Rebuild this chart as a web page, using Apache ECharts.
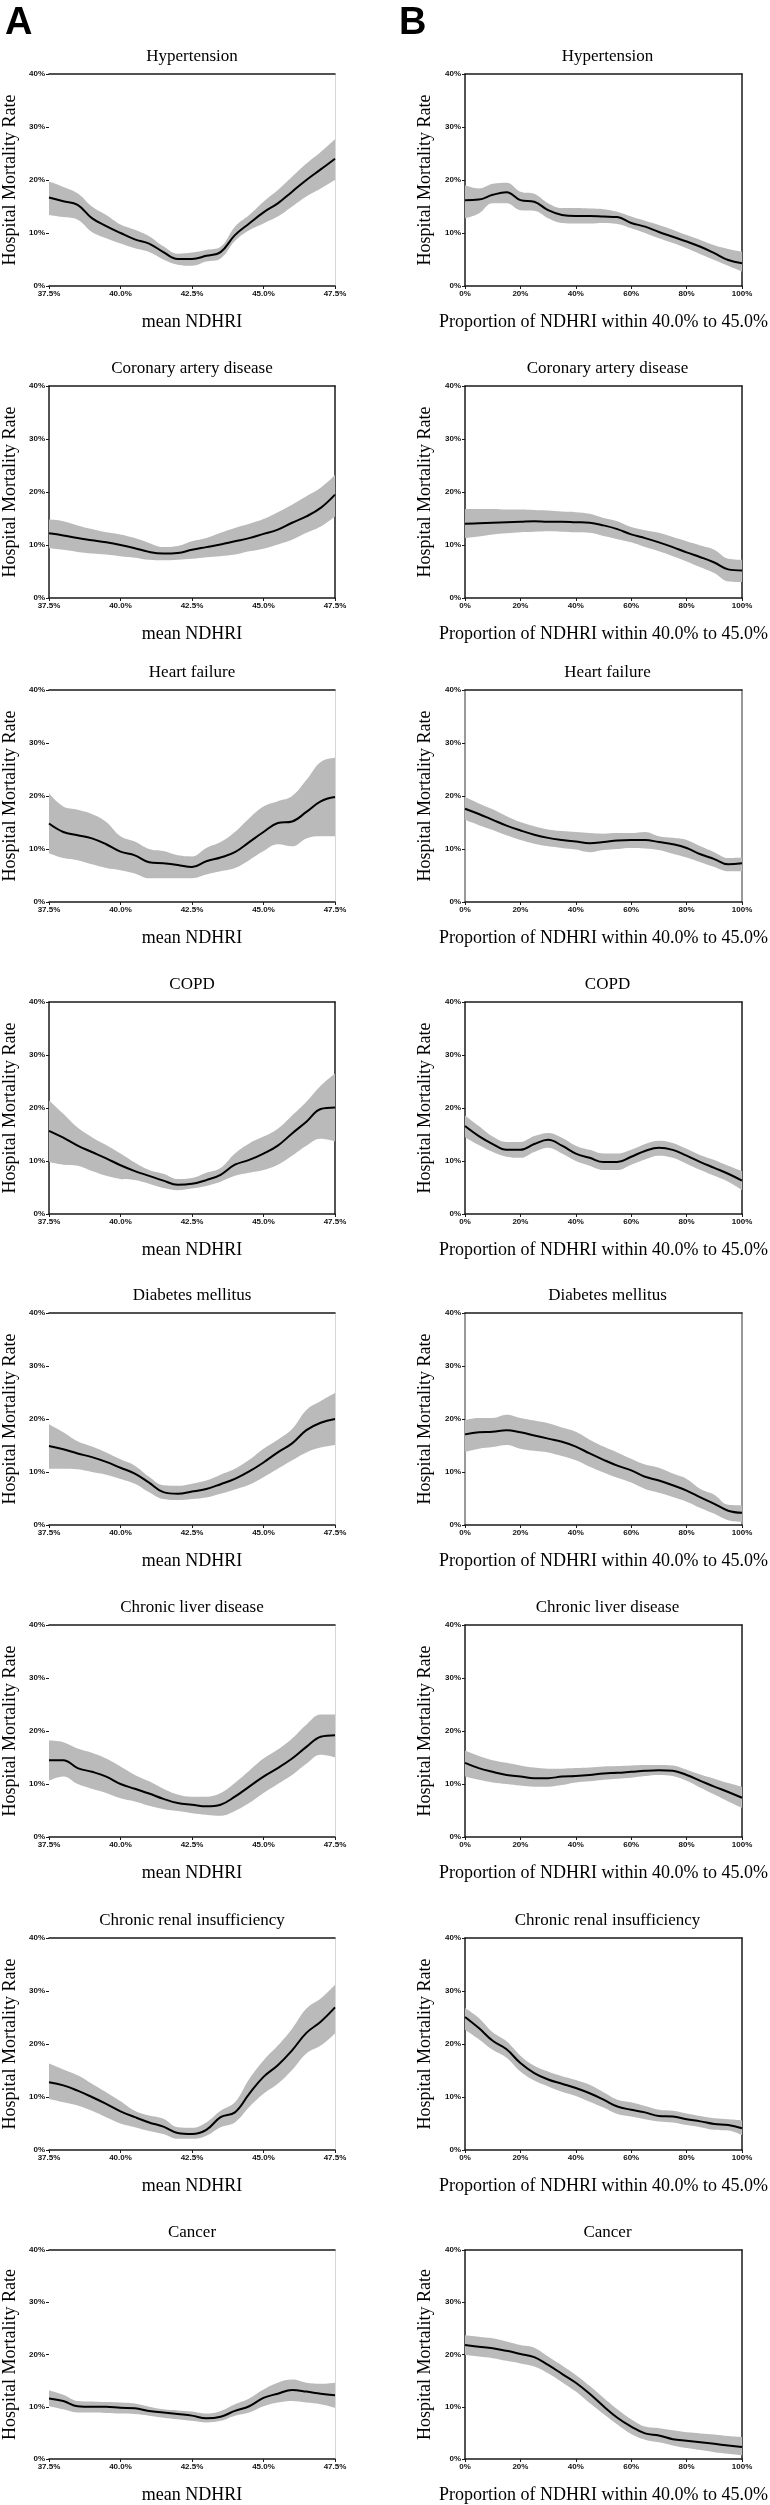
<!DOCTYPE html>
<html>
<head>
<meta charset="utf-8">
<script src="https://cdn.jsdelivr.net/npm/echarts@6/dist/echarts.min.js"></script>
<style>
html, body { margin: 0; padding: 0; background: #fff; }
#chart { width: 770px; height: 2505px; }
</style>
</head>
<body>
<div id="chart"></div>
<script>
// x categories
var xMean = [37.5, 38, 38.5, 39, 39.5, 40, 40.5, 41, 41.5, 42, 42.5, 43, 43.5, 44, 44.5, 45, 45.5, 46, 46.5, 47, 47.5];
var xProp = [0, 5, 10, 15, 20, 25, 30, 35, 40, 45, 50, 55, 60, 65, 70, 75, 80, 85, 90, 95, 100];

var diseases = ['Hypertension', 'Coronary artery disease', 'Heart failure', 'COPD',
    'Diabetes mellitus', 'Chronic liver disease', 'Chronic renal insufficiency', 'Cancer'];

// panel A: mortality vs mean NDHRI (mid, lower, upper)
var htA    = [16.7,16.0,15.3,12.8,11.3,10.0,8.8,8.0,6.4,5.1,5.1,5.7,6.4,9.6,11.8,13.9,15.6,17.8,20.0,22.0,24.0];
var htA_lo = [13.4,13.0,12.5,10.2,9.0,8.0,7.1,6.4,5.0,4.0,3.8,4.6,5.2,8.5,10.5,11.8,13.1,15.0,16.9,18.4,20.0];
var htA_hi = [19.7,18.7,17.5,15.0,13.4,11.6,10.6,9.4,7.5,6.1,6.3,6.8,7.4,11.2,13.4,15.9,18.1,20.6,23.1,25.3,27.7];

var cadA    = [12.2,11.8,11.3,10.9,10.5,10.0,9.4,8.7,8.4,8.5,9.1,9.6,10.1,10.7,11.3,12.1,12.9,14.2,15.4,17.0,19.5];
var cadA_lo = [9.4,9.1,8.7,8.4,8.2,7.9,7.6,7.2,7.1,7.2,7.4,7.7,7.9,8.2,8.8,9.3,10.1,11.0,12.3,13.5,15.4];
var cadA_hi = [14.8,14.5,13.7,13.0,12.4,12.0,11.3,10.4,9.6,9.8,10.7,11.3,12.3,13.2,14.0,14.9,16.2,17.6,19.2,20.8,23.2];

var hfA    = [14.8,13.2,12.6,12.0,10.9,9.5,8.8,7.5,7.3,7.0,6.6,7.7,8.4,9.4,11.3,13.2,14.9,15.2,17.0,19.0,19.8];
var hfA_lo = [9.2,8.3,7.9,7.1,6.4,6.0,5.4,4.5,4.5,4.5,4.5,5.2,5.8,6.4,7.9,9.6,10.9,10.5,12.0,12.4,12.4];
var hfA_hi = [20.5,18.0,17.4,16.6,15.1,12.4,11.4,10.0,9.6,8.8,8.6,10.2,11.3,13.2,15.8,18.0,19.0,20.0,23.0,26.4,27.2];

var copdA    = [15.7,14.4,12.9,11.7,10.5,9.2,8.1,7.2,6.3,5.5,5.7,6.4,7.4,9.3,10.2,11.4,12.9,15.2,17.4,19.8,20.1];
var copdA_lo = [9.8,9.3,9.1,8.1,7.2,6.6,6.4,5.7,4.9,4.5,4.8,5.3,6.1,7.2,7.8,8.3,9.3,11.0,12.9,14.2,13.7];
var copdA_hi = [21.4,18.9,16.3,14.5,13.0,11.4,9.7,8.3,7.6,6.6,6.8,7.8,8.7,11.4,13.3,14.6,16.1,18.6,21.2,24.2,26.5];

var dmA    = [14.9,14.3,13.5,12.8,11.9,10.8,9.7,8.0,6.2,5.9,6.3,6.8,7.7,8.7,10.1,11.8,13.7,15.4,17.9,19.3,20.0];
var dmA_lo = [10.6,10.6,10.5,10.0,9.5,8.7,7.8,6.2,4.9,4.7,4.9,5.2,5.9,6.7,7.6,9.0,10.6,12.2,13.7,14.6,15.1];
var dmA_hi = [19.0,17.5,15.8,14.8,13.7,12.4,11.2,9.1,7.5,7.4,7.8,8.4,9.5,10.6,12.3,14.4,16.1,18.1,21.7,23.4,24.9];

var cldA    = [14.5,14.5,13.0,12.3,11.4,10.0,9.1,8.2,7.2,6.4,6.1,5.8,6.1,7.6,9.5,11.4,13.0,14.8,17.0,18.9,19.2];
var cldA_lo = [10.6,11.4,10.0,9.1,8.3,7.3,6.7,5.9,5.3,4.9,4.5,4.2,4.0,4.9,6.4,8.3,10.0,11.7,13.8,15.5,15.0];
var cldA_hi = [18.2,17.9,16.7,15.9,14.8,13.3,11.7,10.5,9.1,8.0,7.6,7.6,8.3,10.2,12.5,14.8,16.5,18.6,21.2,23.1,23.1];

var criA    = [12.8,12.2,11.2,10.0,8.7,7.3,6.2,5.2,4.4,3.2,3.0,3.8,6.2,7.1,10.6,13.8,16.0,18.8,22.1,24.2,26.9];
var criA_lo = [9.6,9.0,8.4,7.4,6.2,5.0,4.3,3.6,3.0,2.1,2.1,2.7,4.3,5.2,8.1,10.6,12.5,15.1,18.2,19.7,22.0];
var criA_hi = [16.3,15.2,14.1,12.5,10.9,9.2,7.4,6.5,5.9,4.3,4.2,5.2,7.4,9.0,13.4,16.9,19.7,22.9,26.7,28.6,31.2];

var caA    = [11.6,11.1,10.1,10.0,10.0,9.8,9.7,9.2,8.9,8.6,8.3,7.8,8.1,9.2,10.1,11.7,12.5,13.2,12.9,12.5,12.2];
var caA_lo = [10.1,9.5,8.9,8.9,8.8,8.7,8.6,8.3,7.9,7.6,7.3,7.0,7.3,8.3,8.9,10.1,10.8,11.1,10.8,10.5,9.8];
var caA_hi = [13.1,12.3,11.1,11.0,10.9,10.8,10.6,10.0,9.5,9.3,9.1,8.7,9.2,10.5,11.6,13.3,14.6,15.2,14.6,14.4,14.6];

// panel B: mortality vs proportion of NDHRI within 40.0% to 45.0%
var htB    = [16.2,16.3,17.2,17.7,16.2,15.9,14.3,13.4,13.2,13.2,13.1,13.0,11.9,11.2,10.2,9.3,8.4,7.4,6.2,4.9,4.3];
var htB_lo = [12.8,13.7,15.6,15.6,14.3,14.2,12.8,11.9,11.8,11.8,11.9,11.7,10.9,10.0,9.0,8.1,7.1,6.0,4.9,3.8,2.7];
var htB_hi = [19.0,18.4,19.3,19.5,17.8,17.4,15.6,14.7,14.7,14.6,14.5,14.0,13.1,12.3,11.5,10.6,9.6,8.7,7.7,7.0,6.5];

var cadB    = [14.0,14.1,14.2,14.3,14.4,14.5,14.4,14.4,14.3,14.2,13.7,13.0,12.0,11.3,10.5,9.6,8.6,7.7,6.7,5.4,5.2];
var cadB_lo = [11.3,11.6,12.0,12.2,12.4,12.5,12.6,12.5,12.4,12.3,11.7,11.1,10.5,9.6,8.8,7.9,6.9,5.8,4.7,3.1,3.0];
var cadB_hi = [16.8,16.8,16.8,16.7,16.7,16.6,16.5,16.3,16.2,15.9,15.1,14.5,13.4,12.8,12.3,11.5,10.7,9.9,9.1,7.4,7.2];

var hfB    = [17.6,16.6,15.5,14.4,13.5,12.7,12.1,11.7,11.4,11.1,11.3,11.6,11.7,11.7,11.3,10.9,10.2,9.0,8.1,7.1,7.3];
var hfB_lo = [15.5,14.5,13.6,12.6,11.7,11.0,10.5,10.2,9.9,9.4,9.8,10.0,10.2,10.1,9.8,9.1,8.4,7.5,6.6,5.8,5.8];
var hfB_hi = [19.8,18.6,17.5,16.2,15.1,14.3,13.7,13.4,13.2,13.0,12.9,13.0,13.0,13.2,12.4,12.1,11.7,10.5,9.4,8.3,8.4];

var copdB    = [16.6,14.7,13.2,12.1,12.1,13.2,14.0,12.9,11.4,10.6,9.8,9.8,10.8,11.9,12.5,12.1,11.0,9.8,8.7,7.6,6.3];
var copdB_lo = [14.5,13.0,11.7,10.8,10.6,11.7,12.5,11.4,10.0,9.1,8.3,8.3,9.3,10.3,11.0,10.6,9.5,8.3,7.2,6.1,4.5];
var copdB_hi = [18.6,16.6,14.6,13.6,13.6,14.7,15.3,14.4,12.9,12.1,11.4,11.4,12.1,13.2,13.8,13.4,12.3,11.1,10.2,9.1,8.1];

var dmB    = [17.1,17.5,17.6,17.9,17.5,16.9,16.3,15.7,14.8,13.5,12.3,11.2,10.3,9.1,8.4,7.5,6.5,5.2,4.0,2.7,2.3];
var dmB_lo = [13.8,14.4,14.7,15.1,14.4,14.0,13.7,13.0,12.2,11.0,9.9,8.9,8.0,6.8,6.1,5.3,4.4,3.2,2.1,0.9,0.6];
var dmB_hi = [19.8,20.2,20.2,20.8,20.2,19.7,19.2,18.4,17.6,16.1,14.8,13.7,12.5,11.4,10.8,9.7,8.7,6.8,5.7,3.8,3.7];

var cldB    = [14.0,13.0,12.3,11.7,11.4,11.1,11.1,11.4,11.5,11.7,12.0,12.1,12.3,12.5,12.6,12.5,11.7,10.6,9.5,8.5,7.4];
var cldB_lo = [11.4,10.8,10.3,10.0,9.7,9.5,9.5,9.8,10.3,10.5,10.8,11.0,11.2,11.5,11.7,11.5,10.6,9.3,8.0,6.7,5.5];
var cldB_hi = [16.3,15.3,14.5,14.0,13.5,13.1,12.9,12.9,13.0,13.1,13.3,13.4,13.5,13.6,13.6,13.5,12.7,11.8,11.0,10.2,9.5];

var criB    = [25.1,23.0,20.6,19.0,16.4,14.5,13.3,12.5,11.7,10.7,9.5,8.2,7.6,7.1,6.4,6.3,5.8,5.4,4.9,4.7,4.1];
var criB_lo = [22.7,20.9,18.9,17.4,14.8,13.1,12.0,11.0,10.2,9.1,8.0,6.8,6.3,5.8,5.4,5.2,4.7,4.3,3.8,3.7,2.8];
var criB_hi = [26.8,24.9,22.2,20.5,17.8,15.9,14.8,13.9,13.2,12.3,10.9,9.5,9.0,8.3,7.6,7.4,6.9,6.4,6.0,5.8,5.6];

var caB    = [21.8,21.5,21.2,20.7,20.1,19.5,18.0,16.3,14.6,12.5,10.1,7.9,6.2,4.9,4.5,3.8,3.5,3.2,2.9,2.6,2.3];
var caB_lo = [19.9,19.6,19.3,18.8,18.3,17.7,16.4,14.7,12.9,10.7,8.6,6.6,4.8,3.7,3.2,2.6,2.1,1.7,1.3,1.0,0.7];
var caB_hi = [23.7,23.4,23.1,22.5,21.8,21.3,19.6,17.9,16.1,14.0,11.7,9.5,7.6,6.2,5.9,5.5,5.1,4.9,4.7,4.4,4.2];

var panelsA = [[htA, htA_lo, htA_hi], [cadA, cadA_lo, cadA_hi], [hfA, hfA_lo, hfA_hi], [copdA, copdA_lo, copdA_hi],
    [dmA, dmA_lo, dmA_hi], [cldA, cldA_lo, cldA_hi], [criA, criA_lo, criA_hi], [caA, caA_lo, caA_hi]];
var panelsB = [[htB, htB_lo, htB_hi], [cadB, cadB_lo, cadB_hi], [hfB, hfB_lo, hfB_hi], [copdB, copdB_lo, copdB_hi],
    [dmB, dmB_lo, dmB_hi], [cldB, cldB_lo, cldB_hi], [criB, criB_lo, criB_hi], [caB, caB_lo, caB_hi]];

// layout
var rowTop = [74, 386, 690, 1002, 1313, 1625, 1938, 2250];
var plotH = 212;
var colLeft = [49, 465];
var colWidth = [286, 285];
var labelEvery = [4, 3]; // 37.5..47.5 by 2.5 / 0..100 by 20
// A panels drawn open (no left line) except rows 1 and 3
var openA = [true, false, true, false, true, true, true, true];

var serif = '"Liberation Serif", "Times New Roman", "DejaVu Serif", serif';
var sans = '"Liberation Sans", Arial, sans-serif';

var myChart = echarts.init(document.getElementById('chart'), null, {renderer: 'canvas'});

var grids = [], xAxes = [], yAxes = [], series = [], graphics = [];

graphics.push({type: 'text', x: 5, y: 24, style: {text: 'A', font: 'bold 38px ' + sans, fill: '#000', align: 'left', verticalAlign: 'middle'}});
graphics.push({type: 'text', x: 399, y: 24, style: {text: 'B', font: 'bold 38px ' + sans, fill: '#000', align: 'left', verticalAlign: 'middle'}});

for (var col = 0; col < 2; col++) {
    for (var row = 0; row < 8; row++) {
        var k = grids.length;
        var open = col === 0 && openA[row];
        var xs = col === 0 ? xMean : xProp;
        var p = col === 0 ? panelsA[row] : panelsB[row];
        var frame = '#1a1a1a';
        var side = open ? '#d6d6d6' : (col === 1 && (row === 2 || row === 4) ? '#777' : frame);

        grids.push({left: colLeft[col], top: rowTop[row], width: colWidth[col], height: plotH});

        graphics.push({
            type: 'text',
            x: colLeft[col] + colWidth[col] / 2,
            y: rowTop[row] - 17,
            style: {text: diseases[row], font: '17px ' + serif, fill: '#000', align: 'center', verticalAlign: 'middle'}
        });

        xAxes.push({
            gridIndex: k, type: 'category', data: xs, boundaryGap: false, position: 'bottom',
            name: col === 0 ? 'mean NDHRI' : 'Proportion of NDHRI within 40.0% to 45.0%',
            nameLocation: 'middle', nameGap: 27,
            nameTextStyle: {fontFamily: serif, fontSize: 18, color: '#000'},
            axisLine: {show: true, onZero: false, lineStyle: {color: frame, width: 1.5}},
            axisTick: {show: true, interval: labelEvery[col], length: 3, lineStyle: {color: frame}},
            axisLabel: {
                interval: labelEvery[col], margin: 4, fontFamily: sans, fontWeight: 'bold', fontSize: 8, color: '#111',
                formatter: col === 0 ? function (v) { return Number(v).toFixed(1) + '%'; } : '{value}%'
            },
            splitLine: {show: false}
        });
        xAxes.push({
            gridIndex: k, type: 'category', data: xs, boundaryGap: false, position: 'top',
            axisLine: {show: true, onZero: false, lineStyle: {color: frame, width: 1.5}},
            axisTick: {show: false}, axisLabel: {show: false}, splitLine: {show: false}
        });
        yAxes.push({
            gridIndex: k, type: 'value', min: 0, max: 40, interval: 10, position: 'left',
            name: 'Hospital Mortality Rate', nameLocation: 'middle', nameGap: col === 0 ? 30 : 31,
            nameTextStyle: {fontFamily: serif, fontSize: 18, color: '#000'},
            axisLine: {show: !open, onZero: false, lineStyle: {color: side, width: 1.5}},
            axisTick: {show: true, length: 3, lineStyle: {color: frame}},
            axisLabel: {margin: 4, fontFamily: sans, fontWeight: 'bold', fontSize: 8, color: '#111', formatter: '{value}%'},
            splitLine: {show: false}
        });
        yAxes.push({
            gridIndex: k, type: 'value', min: 0, max: 40, interval: 10, position: 'right',
            axisLine: {show: true, onZero: false, lineStyle: {color: side, width: open ? 1 : 1.5}},
            axisTick: {show: false}, axisLabel: {show: false}, splitLine: {show: false}
        });

        var mid = p[0], lo = p[1], hi = p[2];
        var xi = 2 * k, yi = 2 * k;
        series.push({
            type: 'line', xAxisIndex: xi, yAxisIndex: yi, stack: 'band' + k, data: lo,
            smooth: 0.4, symbol: 'none', lineStyle: {opacity: 0}, silent: true, z: 1
        });
        series.push({
            type: 'line', xAxisIndex: xi, yAxisIndex: yi, stack: 'band' + k,
            data: hi.map(function (v, i) { return +(v - lo[i]).toFixed(2); }),
            smooth: 0.4, symbol: 'none', lineStyle: {opacity: 0},
            areaStyle: {color: '#bababa', opacity: 1}, silent: true, z: 1
        });
        series.push({
            type: 'line', xAxisIndex: xi, yAxisIndex: yi, data: mid,
            smooth: 0.4, symbol: 'none', lineStyle: {color: '#000', width: 2}, z: 3
        });
    }
}

var option = {
    backgroundColor: '#fff',
    animation: false,
    grid: grids,
    xAxis: xAxes,
    yAxis: yAxes,
    series: series,
    graphic: graphics
};

myChart.setOption(option);
</script>
</body>
</html>
